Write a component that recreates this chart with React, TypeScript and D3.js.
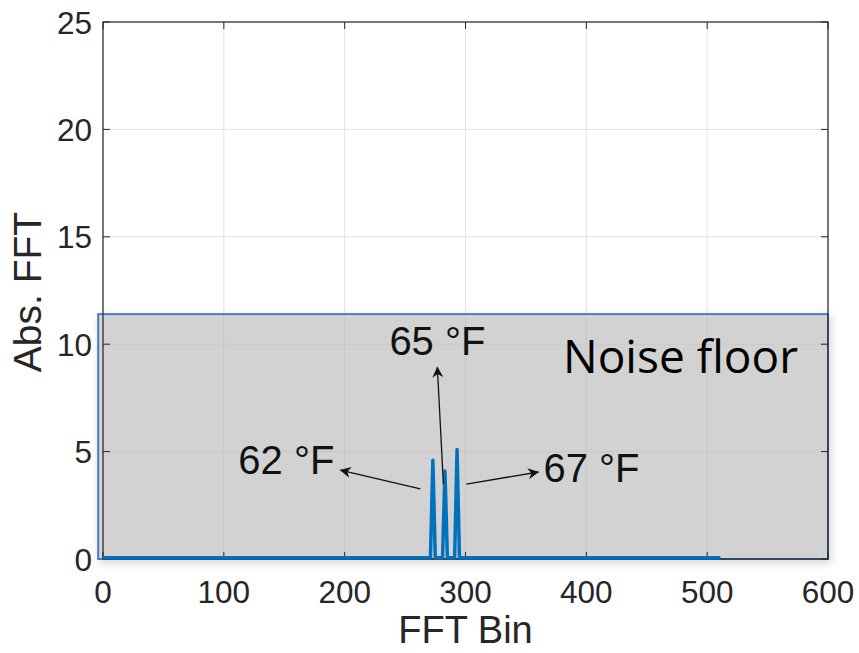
import React from "react";
import * as d3 from "d3";

// ---- data ----
const binPoints: number[] = [0, 100, 200, 271, 273, 275, 281, 283, 285, 291, 293, 295, 400, 511];
const absFFT: number[] = [0.06, 0.06, 0.06, 0.06, 4.6, 0.06, 0.06, 4.1, 0.06, 0.06, 5.1, 0.06, 0.06, 0.06];
const xTicks: number[] = [0, 100, 200, 300, 400, 500, 600];
const yTicks: number[] = [0, 5, 10, 15, 20, 25];
const noiseFloorBox = { x0: -4, x1: 600, y0: 0, y1: 11.4 };
const annotLabels: string[] = ["62 °F", "65 °F", "67 °F"];
const annotTextPos: [number, number][] = [[112, 3.95], [237, 9.5], [364.5, 3.6]];
const annotArrowTail: [number, number][] = [[262.6, 3.26], [281.7, 3.49], [300.7, 3.49]];
const annotArrowTip: [number, number][] = [[196.4, 4.14], [276.7, 8.94], [360.4, 4.05]];

const W = 859, H = 653;
const L = 103, R = 828, T = 22, B = 559;

export default function App() {
  const x = d3.scaleLinear().domain([0, 600]).range([L, R]);
  const y = d3.scaleLinear().domain([0, 25]).range([B, T]);
  const line = d3.line<number>().x((_, i) => x(binPoints[i])).y((d) => y(d));
  const font = "'Liberation Sans', Arial, Helvetica, sans-serif";
  const txt = "#262626";
  return (
    <svg width={W} height={H} style={{ position: "absolute", left: 0, top: 0, background: "#fff" }}>
      <defs>
        <filter id="shadow" x="-5%" y="-10%" width="110%" height="125%">
          <feDropShadow dx="2" dy="3" stdDeviation="4" floodColor="#000" floodOpacity="0.22" />
        </filter>
        <marker id="arrow" viewBox="0 0 10 10" refX="9.5" refY="5" markerWidth="11" markerHeight="11" markerUnits="userSpaceOnUse" orient="auto">
          <path d="M0,0 L10,5 L0,10 L3,5 Z" fill="#111" />
        </marker>
      </defs>
      {/* grid */}
      {xTicks.map((t) => (
        <line key={"gx" + t} x1={x(t)} x2={x(t)} y1={T} y2={B} stroke="#e3e3e3" strokeWidth={1} />
      ))}
      {yTicks.map((t) => (
        <line key={"gy" + t} x1={L} x2={R} y1={y(t)} y2={y(t)} stroke="#e3e3e3" strokeWidth={1} />
      ))}
      {/* noise floor box */}
      <rect
        x={x(noiseFloorBox.x0)}
        y={y(noiseFloorBox.y1)}
        width={x(noiseFloorBox.x1) - x(noiseFloorBox.x0)}
        height={y(noiseFloorBox.y0) - y(noiseFloorBox.y1)}
        fill="#c2c2c2"
        fillOpacity={0.6}
        stroke="#4a7cc4"
        strokeWidth={2}
        filter="url(#shadow)"
      />
      {/* axes box */}
      <rect x={L} y={T} width={R - L} height={B - T} fill="none" stroke="#262626" strokeWidth={1.2} />
      {xTicks.map((t) => (
        <g key={"xt" + t}>
          <line x1={x(t)} x2={x(t)} y1={B} y2={B - 7} stroke="#262626" />
          <line x1={x(t)} x2={x(t)} y1={T} y2={T + 7} stroke="#262626" />
          <text x={x(t)} y={603} textAnchor="middle" fontFamily={font} fontSize={31.5} fill={txt}>{t}</text>
        </g>
      ))}
      {yTicks.map((t) => (
        <g key={"yt" + t}>
          <line x1={L} x2={L + 7} y1={y(t)} y2={y(t)} stroke="#262626" />
          <line x1={R} x2={R - 7} y1={y(t)} y2={y(t)} stroke="#262626" />
          <text x={92} y={y(t) + 11.5} textAnchor="end" fontFamily={font} fontSize={31.5} fill={txt}>{t}</text>
        </g>
      ))}
      {/* data */}
      <path d={line(absFFT) || ""} fill="none" stroke="#0072BD" strokeWidth={3.5} strokeLinejoin="round" />
      {/* axis labels */}
      <text x={(L + R) / 2} y={643} textAnchor="middle" fontFamily={font} fontSize={38} fill={txt}>FFT Bin</text>
      <text transform={`translate(41,292) rotate(-90)`} textAnchor="middle" fontFamily={font} fontSize={39} fill={txt}>Abs. FFT</text>
      {/* annotations */}
      <text x={563} y={373} fontFamily="'Open Sans', sans-serif" fontSize={45} fill="#000" textLength={235} lengthAdjust="spacingAndGlyphs">Noise floor</text>
      {annotLabels.map((lab, i) => (
        <g key={lab}>
          <text x={x(annotTextPos[i][0])} y={y(annotTextPos[i][1])} fontFamily={font} fontSize={40} fill="#111">{lab}</text>
          <line
            x1={x(annotArrowTail[i][0])}
            y1={y(annotArrowTail[i][1])}
            x2={x(annotArrowTip[i][0])}
            y2={y(annotArrowTip[i][1])}
            stroke="#111"
            strokeWidth={1.3}
            markerEnd="url(#arrow)"
          />
        </g>
      ))}
    </svg>
  );
}
